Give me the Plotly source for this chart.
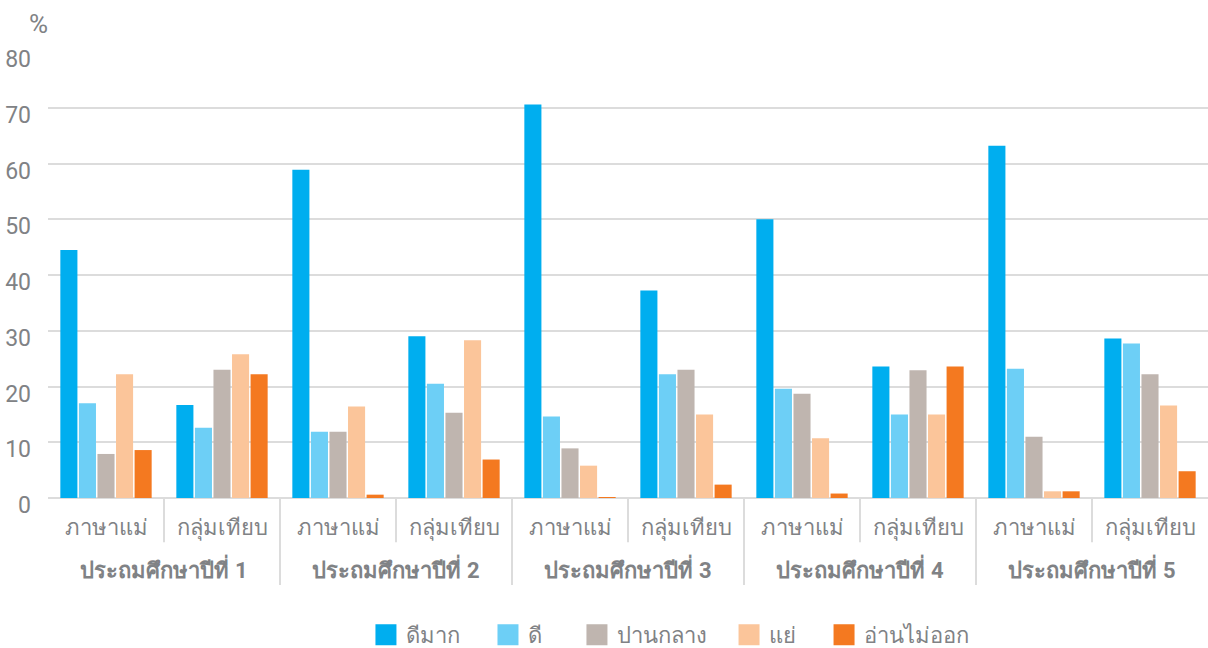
import plotly.graph_objects as go

grades = ["ประถมศึกษาปีที่ 1", "ประถมศึกษาปีที่ 2", "ประถมศึกษาปีที่ 3",
          "ประถมศึกษาปีที่ 4", "ประถมศึกษาปีที่ 5"]
groups = ["ภาษาแม่", "กลุ่มเทียบ"]
series_names = ["ดีมาก", "ดี", "ปานกลาง", "แย่", "อ่านไม่ออก"]
colors = ["#00AEEF", "#6DCFF6", "#BFB5AF", "#FBC59A", "#F47920"]

very_good = [44.5, 16.7, 58.9, 29.0, 70.6, 37.2, 50.0, 23.6, 63.2, 28.6]
good      = [17.0, 12.6, 11.9, 20.5, 14.6, 22.2, 19.6, 15.0, 23.2, 27.7]
medium    = [7.9, 23.0, 11.9, 15.3, 8.9, 23.0, 18.7, 22.9, 11.0, 22.2]
poor      = [22.2, 25.8, 16.4, 28.3, 5.8, 15.0, 10.7, 15.0, 1.2, 16.6]
cannot    = [8.6, 22.2, 0.6, 6.9, 0.1, 2.4, 0.8, 23.6, 1.2, 4.8]
values = [very_good, good, medium, poor, cannot]

# outer-level labels get a leading line break so they sit below the inner labels
x_outer = []
x_inner = []
for g in grades:
    for s in groups:
        x_outer.append("<br><b>" + g + "</b>")
        x_inner.append(s)

FONT = "Liberation Sans Narrow, Roboto, Noto Sans, sans-serif"
GRID = "#dcdcdc"
legend_x = [0.2741, 0.3793, 0.4560, 0.5871, 0.6690]

fig = go.Figure()
for name, vals, c in zip(series_names, values, colors):
    fig.add_trace(go.Bar(x=[x_outer, x_inner], y=vals, name=name, legendgroup=name,
                         showlegend=False, marker=dict(color=c, line=dict(width=0))))
# legend entries with larger square swatches, one legend box per entry
legend_layout = {}
for i, (name, c) in enumerate(zip(series_names, colors)):
    lg = "legend" if i == 0 else "legend%d" % (i + 1)
    fig.add_trace(go.Scatter(x=[None], y=[None], mode="markers", name=name, legendgroup=name,
                             legend=lg,
                             marker=dict(symbol="square", size=16, color=c,
                                         line=dict(color=c, width=5)),
                             hoverinfo="skip"))
    legend_layout[lg] = dict(orientation="h", x=legend_x[i], xanchor="left", y=-0.307,
                             yanchor="middle", font=dict(size=22, color="#808285"),
                             bgcolor="rgba(0,0,0,0)",
                             itemclick=False, itemdoubleclick=False)

shapes = []
n_cat = len(grades) * len(groups)
for k in range(n_cat - 1):
    xf = (k + 1) / n_cat
    is_group = (k + 1) % len(groups) == 0
    shapes.append(dict(type="line", xref="paper", yref="paper", x0=xf, x1=xf,
                       y0=0, y1=-0.195 if is_group else -0.099,
                       line=dict(color=GRID, width=2), layer="below"))

fig.update_layout(
    width=1208, height=648,
    margin=dict(l=48, r=0, t=52, b=150, autoexpand=False),
    paper_bgcolor="white", plot_bgcolor="white",
    barmode="group", bargap=0.2, bargroupgap=0.08,
    font=dict(family=FONT, color="#808285", size=21),
    showlegend=True,
    shapes=shapes,
    annotations=[dict(text="%", xref="paper", yref="paper", x=-0.0078, y=1.063,
                      xanchor="center", yanchor="middle", showarrow=False,
                      font=dict(size=26, color="#808285"))],
    **legend_layout,
)
fig.update_yaxes(range=[0, 80], dtick=10, showgrid=True, gridcolor=GRID, gridwidth=2,
                 zeroline=True, zerolinecolor=GRID, zerolinewidth=2,
                 tickfont=dict(size=23, color="#808285"), ticks="", automargin=False,
                 ticklabelstandoff=16, ticklabelshift=7)
fig.update_xaxes(type="multicategory", showgrid=False, showline=False,
                 showdividers=False, automargin=False,
                 tickfont=dict(size=22, color="#808285"), ticks="",
                 ticklabelstandoff=14)

fig.write_html("out.html")
